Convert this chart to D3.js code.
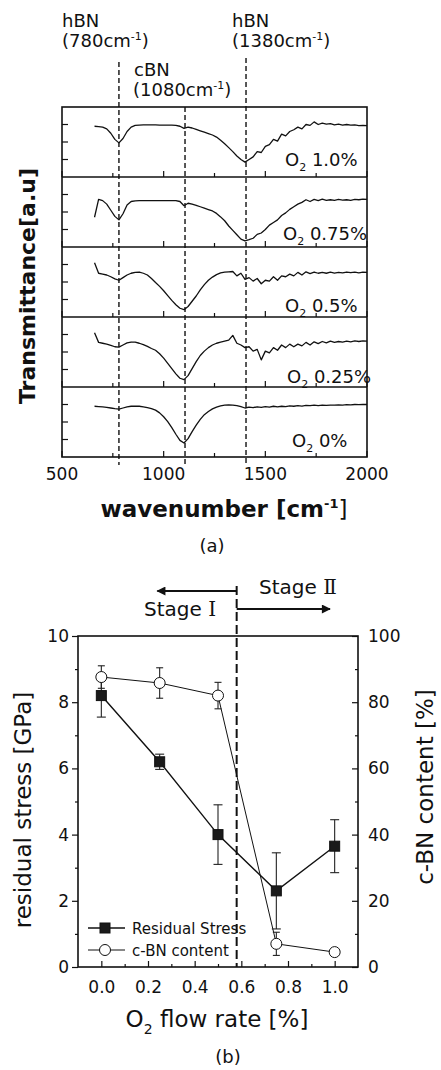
<!DOCTYPE html>
<html><head><meta charset="utf-8">
<script src="https://cdn.jsdelivr.net/npm/d3@7"></script>
<style>
body{margin:0;background:#fff}
svg{display:block}
text{font-family:"DejaVu Sans",Verdana,sans-serif;fill:#111}
</style>
</head><body>
<svg id="c" width="441" height="1070"></svg>
<script>
// ---------- Data: panel (a) FTIR spectra ----------
const wavenumbers = [660,680,700,720,740,760,780,800,820,840,860,880,900,920,940,960,980,1000,1020,1040,1060,1080,1100,1120,1140,1160,1180,1200,1220,1240,1260,1280,1300,1320,1340,1360,1380,1400,1420,1440,1460,1480,1500,1520,1540,1560,1580,1600,1620,1640,1660,1680,1700,1720,1740,1760,1780,1800,1820,1840,1860,1880,1900,1920,1940,1960,1980,2000];
const spectrumLabels = ["1.0%","0.75%","0.5%","0.25%","0%"];
const specO2_100 = [2.9,2.88,2.85,2.75,2.5,2.15,1.95,2.2,2.6,2.85,2.95,2.97,2.98,2.98,2.98,2.98,2.97,2.97,2.96,2.96,2.95,2.9,2.78,2.85,2.8,2.72,2.64,2.56,2.48,2.4,2.28,2.1,1.9,1.68,1.45,1.2,1.0,0.85,1.0,1.15,1.45,1.4,1.75,1.85,2.15,2.05,2.45,2.35,2.6,2.7,2.85,2.75,3.0,2.95,3.15,3.0,3.08,3.02,3.05,2.98,3.02,2.96,3.0,2.97,2.98,2.94,2.95,2.93];
const specO2_075 = [1.7,2.72,2.65,2.45,2.1,1.75,1.55,1.9,2.4,2.6,2.64,2.65,2.65,2.65,2.65,2.65,2.65,2.65,2.65,2.65,2.65,2.6,2.36,2.5,2.45,2.38,2.3,2.22,2.14,2.06,1.92,1.72,1.5,1.2,0.95,0.7,0.45,0.35,0.42,0.5,0.72,0.8,1.0,1.25,1.4,1.55,1.8,1.95,2.15,2.3,2.45,2.55,2.7,2.6,2.72,2.65,2.73,2.66,2.7,2.67,2.72,2.68,2.7,2.67,2.72,2.7,2.74,2.72];
const specO2_050 = [3.1,2.5,2.45,2.4,2.3,2.18,2.1,2.25,2.4,2.5,2.55,2.57,2.5,2.4,2.2,1.97,1.75,1.5,1.22,0.95,0.7,0.5,0.42,0.6,0.9,1.2,1.55,1.85,2.1,2.28,2.42,2.52,2.56,2.58,2.6,2.35,2.5,2.15,2.25,2.05,2.2,1.9,2.1,2.05,2.3,2.1,2.35,2.3,2.45,2.35,2.55,2.4,2.58,2.48,2.57,2.5,2.55,2.5,2.56,2.51,2.55,2.52,2.57,2.53,2.56,2.52,2.56,2.55];
const specO2_025 = [3.1,2.55,2.5,2.45,2.38,2.3,2.28,2.4,2.52,2.57,2.56,2.5,2.42,2.32,2.2,2.1,1.9,1.65,1.35,1.05,0.75,0.5,0.42,0.65,1.05,1.45,1.8,2.05,2.25,2.4,2.5,2.56,2.62,2.68,2.95,2.5,2.4,2.25,2.3,2.05,2.15,1.55,2.05,1.95,2.25,2.1,2.4,2.25,2.45,2.3,2.45,2.35,2.55,2.4,2.58,2.48,2.6,2.52,2.62,2.55,2.6,2.56,2.62,2.58,2.63,2.6,2.64,2.62];
const specO2_000 = [2.9,2.88,2.86,2.84,2.8,2.76,2.73,2.8,2.87,2.9,2.91,2.9,2.87,2.82,2.76,2.68,2.52,2.3,2.02,1.68,1.3,0.95,0.8,1.05,1.45,1.82,2.15,2.42,2.6,2.75,2.85,2.92,2.96,2.98,2.97,2.93,2.88,2.8,2.85,2.82,2.87,2.84,2.88,2.85,2.9,2.87,2.9,2.88,2.92,2.9,2.93,2.91,2.95,2.93,2.96,2.94,2.97,2.95,2.97,2.96,2.98,2.97,2.99,2.98,3.0,2.99,3.0,3.0];
const spectra = [specO2_100, specO2_075, specO2_050, specO2_025, specO2_000];
const peakLines = [780, 1105, 1405];
const wnMajorTicks = [500,1000,1500,2000];
const wnMinorTicks = [750,1250,1750];

// ---------- Data: panel (b) ----------
const flowRates = [0, 0.25, 0.5, 0.75, 1.0];
const residualStress = [8.2, 6.2, 4.0, 2.3, 3.65];
const stressErr = [0.65, 0.23, 0.9, 1.15, 0.8];
const cbnContent = [87.6, 85.8, 82, 7, 4.5];
const cbnErr = [3.4, 4.6, 4, 3.5, 1];
const stageBoundary = 0.58;
const stressTicks = [0,2,4,6,8,10];
const contentTicks = [0,20,40,60,80,100];
const flowTicks = [0,0.2,0.4,0.6,0.8,1.0];

const svg = d3.select("#c");

// ================= Panel (a) =================
const ax = {l:62, r:367, t:107, ph:70, n:5};
const X1 = d3.scaleLinear().domain([500,2000]).range([ax.l, ax.r]);
const bottomA = ax.t + ax.ph*ax.n;
const gA = svg.append("g");

spectra.forEach((s,i)=>{
  const y = d3.scaleLinear().domain([0,4]).range([ax.t+ax.ph*(i+1), ax.t+ax.ph*i]);
  const line = d3.line().x((d,j)=>X1(wavenumbers[j])).y(d=>y(d));
  gA.append("path").attr("d", line(s)).attr("fill","none").attr("stroke","#111").attr("stroke-width",1.3).attr("stroke-linejoin","round");
  [1,2,3].forEach(v=>{
    gA.append("line").attr("x1",ax.l).attr("x2",ax.l+6).attr("y1",y(v)).attr("y2",y(v)).attr("stroke","#111").attr("stroke-width",1.2);
  });
  const yb = ax.t+ax.ph*(i+1);
  wnMajorTicks.concat(wnMinorTicks).forEach(v=>{
    const len = wnMajorTicks.includes(v)?6:4;
    gA.append("line").attr("x1",X1(v)).attr("x2",X1(v)).attr("y1",yb).attr("y2",yb-len).attr("stroke","#111").attr("stroke-width",1.2);
  });
  if(i<ax.n-1){
    gA.append("line").attr("x1",ax.l).attr("x2",ax.r).attr("y1",yb).attr("y2",yb).attr("stroke","#111").attr("stroke-width",1.6);
  }
  const lx = [285,283,285,287,292][i];
  const ly = [166,240,312,383,447][i];
  const t = gA.append("text").attr("x",lx).attr("y",ly).attr("font-size",18);
  t.append("tspan").text("O");
  t.append("tspan").attr("dy",5).attr("font-size",11).text("2");
  t.append("tspan").attr("dy",-5).text(" "+spectrumLabels[i]);
});

gA.append("rect").attr("x",ax.l).attr("y",ax.t).attr("width",ax.r-ax.l).attr("height",bottomA-ax.t)
  .attr("fill","none").attr("stroke","#111").attr("stroke-width",1.6);

const peakTop = [62, 107, 58];
peakLines.forEach((v,i)=>{
  gA.append("line").attr("x1",X1(v)).attr("x2",X1(v)).attr("y1",peakTop[i]).attr("y2",bottomA+8)
    .attr("stroke","#111").attr("stroke-width",1.4).attr("stroke-dasharray","5,3");
});

wnMajorTicks.forEach(v=>{
  gA.append("text").attr("x",X1(v)).attr("y",480).attr("text-anchor","middle").attr("font-size",17).text(v);
});

function cmLabel(g,x,y,num){
  const t = g.append("text").attr("x",x).attr("y",y).attr("font-size",18);
  t.append("tspan").text("("+num+"cm");
  t.append("tspan").attr("dy",-7).attr("font-size",11).text("-1");
  t.append("tspan").attr("dy",7).text(")");
}
gA.append("text").attr("x",62).attr("y",27).attr("font-size",18).text("hBN");
cmLabel(gA,62,47,"780");
gA.append("text").attr("x",134).attr("y",76).attr("font-size",18).text("cBN");
cmLabel(gA,133,96,"1080");
gA.append("text").attr("x",232).attr("y",27).attr("font-size",18).text("hBN");
cmLabel(gA,232,47,"1380");

gA.append("text").attr("transform","translate(35,286) rotate(-90)").attr("text-anchor","middle")
  .attr("font-size",22).attr("font-weight","bold").text("Transmittance[a.u]");
{
  const t = gA.append("text").attr("x",224).attr("y",517).attr("text-anchor","middle").attr("font-size",23).attr("font-weight","bold");
  t.append("tspan").text("wavenumber [cm");
  t.append("tspan").attr("dy",-9).attr("font-size",13).text("-1");
  t.append("tspan").attr("dy",9).attr("font-weight","normal").text("]");
}
gA.append("text").attr("x",212).attr("y",552).attr("text-anchor","middle").attr("font-size",18).text("(a)");

// ================= Panel (b) =================
const bx = {l:78, r:358, t:636, b:967};
const X2 = d3.scaleLinear().domain([-0.1,1.1]).range([bx.l,bx.r]);
const YL = d3.scaleLinear().domain([0,10]).range([bx.b,bx.t]);
const YR = d3.scaleLinear().domain([0,100]).range([bx.b,bx.t]);
const gB = svg.append("g");

function styleAxis(g,fs){
  g.select(".domain").remove();
  g.attr("font-family",null).attr("font-size",null);
  g.selectAll("text").attr("font-size",fs).attr("fill","#111");
  g.selectAll("line").attr("stroke","#111").attr("stroke-width",1.2);
}
gB.append("g").attr("transform",`translate(${bx.l},0)`)
  .call(d3.axisLeft(YL).tickValues(stressTicks).tickSize(6).tickPadding(3).tickFormat(d3.format("d")))
  .call(g=>styleAxis(g,17));
gB.append("g").attr("transform",`translate(${bx.l},0)`)
  .call(d3.axisLeft(YL).tickValues([1,3,5,7,9]).tickSize(3).tickFormat(""))
  .call(g=>styleAxis(g,17));
gB.append("g").attr("transform",`translate(${bx.r},0)`)
  .call(d3.axisRight(YR).tickValues(contentTicks).tickSize(-6).tickPadding(10).tickFormat(d3.format("d")))
  .call(g=>styleAxis(g,17));
gB.append("g").attr("transform",`translate(${bx.r},0)`)
  .call(d3.axisRight(YR).tickValues([10,30,50,70,90]).tickSize(-3).tickFormat(""))
  .call(g=>styleAxis(g,17));
gB.append("g").attr("transform",`translate(0,${bx.b})`)
  .call(d3.axisBottom(X2).tickValues(flowTicks).tickSize(-6).tickPadding(14).tickFormat(d3.format(".1f")))
  .call(g=>styleAxis(g,17));
gB.append("g").attr("transform",`translate(0,${bx.b})`)
  .call(d3.axisBottom(X2).tickValues([0.1,0.3,0.5,0.7,0.9]).tickSize(-3).tickFormat(""))
  .call(g=>styleAxis(g,17));
gB.append("rect").attr("x",bx.l).attr("y",bx.t).attr("width",bx.r-bx.l).attr("height",bx.b-bx.t)
  .attr("fill","none").attr("stroke","#111").attr("stroke-width",1.6);

const sx = X2(stageBoundary);
gB.append("line").attr("x1",sx).attr("x2",sx).attr("y1",586).attr("y2",bx.b)
  .attr("stroke","#111").attr("stroke-width",2).attr("stroke-dasharray","9,4");
const defs = svg.append("defs");
defs.append("marker").attr("id","arr").attr("viewBox","0 0 10 10").attr("refX",9).attr("refY",5)
  .attr("markerWidth",11).attr("markerHeight",9).attr("markerUnits","userSpaceOnUse").attr("orient","auto")
  .append("path").attr("d","M0,0L10,5L0,10Z").attr("fill","#111");
gB.append("line").attr("x1",sx).attr("x2",X2(0.24)).attr("y1",591).attr("y2",591)
  .attr("stroke","#111").attr("stroke-width",2).attr("marker-end","url(#arr)");
gB.append("line").attr("x1",sx).attr("x2",X2(0.98)).attr("y1",609).attr("y2",609)
  .attr("stroke","#111").attr("stroke-width",2).attr("marker-end","url(#arr)");
{
  const t = gB.append("text").attr("x",259).attr("y",594).attr("font-size",20);
  t.append("tspan").text("Stage ");
  t.append("tspan").attr("font-family","'DejaVu Serif','Noto Sans CJK JP',serif").text("Ⅱ");
  const t2 = gB.append("text").attr("x",144).attr("y",616).attr("font-size",20);
  t2.append("tspan").text("Stage ");
  t2.append("tspan").attr("font-family","'DejaVu Serif','Noto Sans CJK JP',serif").text("Ⅰ");
}

gB.append("path").attr("d",d3.line().x((d,i)=>X2(flowRates[i])).y(d=>YR(d))(cbnContent))
  .attr("fill","none").attr("stroke","#111").attr("stroke-width",1);
gB.append("path").attr("d",d3.line().x((d,i)=>X2(flowRates[i])).y(d=>YL(d))(residualStress))
  .attr("fill","none").attr("stroke","#111").attr("stroke-width",1.4);

function errBar(x,y0,y1,w){
  gB.append("line").attr("x1",x).attr("x2",x).attr("y1",y0).attr("y2",y1).attr("stroke","#222").attr("stroke-width",1.1);
  [y0,y1].forEach(y=>gB.append("line").attr("x1",x-w).attr("x2",x+w).attr("y1",y).attr("y2",y).attr("stroke","#222").attr("stroke-width",1.1));
}
flowRates.forEach((f,i)=>{
  errBar(X2(f), YR(cbnContent[i]-cbnErr[i]), YR(cbnContent[i]+cbnErr[i]), 3.5);
  errBar(X2(f), YL(residualStress[i]-stressErr[i]), YL(residualStress[i]+stressErr[i]), 4.5);
});
flowRates.forEach((f,i)=>{
  gB.append("circle").attr("cx",X2(f)).attr("cy",YR(cbnContent[i])).attr("r",5.5)
    .attr("fill","#fff").attr("stroke","#111").attr("stroke-width",1);
  gB.append("rect").attr("x",X2(f)-5).attr("y",YL(residualStress[i])-5).attr("width",10).attr("height",10)
    .attr("fill","#1a1a1a").attr("stroke","#111");
});

gB.append("line").attr("x1",88).attr("x2",125).attr("y1",928).attr("y2",928).attr("stroke","#111").attr("stroke-width",1.4);
gB.append("rect").attr("x",100).attr("y",923).attr("width",10).attr("height",10).attr("fill","#1a1a1a").attr("stroke","#111");
gB.append("text").attr("x",132).attr("y",934).attr("font-size",15).text("Residual Stress");
gB.append("line").attr("x1",88).attr("x2",125).attr("y1",950).attr("y2",950).attr("stroke","#111").attr("stroke-width",1);
gB.append("circle").attr("cx",105).attr("cy",950).attr("r",5.5).attr("fill","#fff").attr("stroke","#111");
gB.append("text").attr("x",132).attr("y",956).attr("font-size",15).text("c-BN content");

gB.append("text").attr("transform","translate(31,810) rotate(-90)").attr("text-anchor","middle")
  .attr("font-size",23).text("residual stress [GPa]");
gB.append("text").attr("transform","translate(433,787) rotate(-90)").attr("text-anchor","middle")
  .attr("font-size",23).text("c-BN content [%]");
{
  const t = gB.append("text").attr("x",217).attr("y",1027).attr("text-anchor","middle").attr("font-size",23);
  t.append("tspan").text("O");
  t.append("tspan").attr("dy",7).attr("font-size",14).text("2");
  t.append("tspan").attr("dy",-7).text(" flow rate [%]");
}
gB.append("text").attr("x",228).attr("y",1063).attr("text-anchor","middle").attr("font-size",18).text("(b)");
</script>
</body></html>
